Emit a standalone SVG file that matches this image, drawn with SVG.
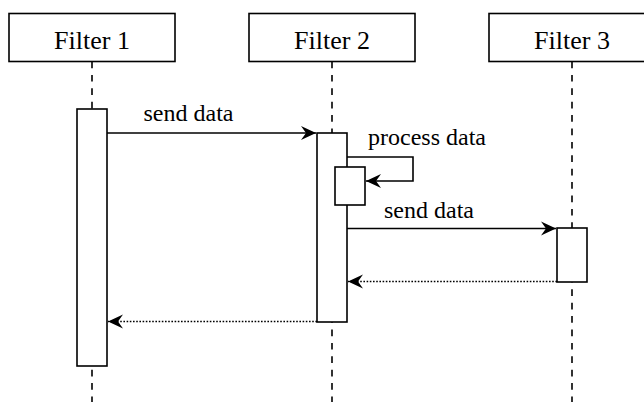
<svg xmlns="http://www.w3.org/2000/svg" width="644" height="402" viewBox="0 0 644 402">
<style>
.box{fill:#fff;stroke:#000;stroke-width:1.6}
.life{fill:none;stroke:#000;stroke-width:1.6;stroke-dasharray:6.7 6.7}
.act{fill:#fff;stroke:#000;stroke-width:1.6}
.msg{fill:none;stroke:#000;stroke-width:1.6}
.ret{fill:none;stroke:#000;stroke-width:1.6;stroke-dasharray:1.6 1.6}
.hdr{font-family:"Liberation Serif","Times New Roman",serif;font-size:26px;fill:#000;text-anchor:middle}
.lbl{font-family:"Liberation Serif","Times New Roman",serif;font-size:24px;fill:#000}
</style>
<defs>
<marker id="ah" viewBox="-16 -8 17 16" refX="0" refY="0" markerWidth="17" markerHeight="16" markerUnits="userSpaceOnUse" orient="auto">
<path d="M0,0 L-15,-7 L-10,0 L-15,7 Z" fill="#000"/>
</marker>
</defs>
<g id="filter1">
<line class="life" x1="92" y1="61.5" x2="92" y2="402"/>
<rect class="box" x="9" y="13.5" width="166" height="48"/>
<text class="hdr" x="92" y="49">Filter 1</text>
<rect class="act" x="77" y="109" width="30" height="257"/>
</g>
<g id="filter2">
<line class="life" x1="332" y1="61.5" x2="332" y2="402"/>
<rect class="box" x="249" y="13.5" width="166" height="48"/>
<text class="hdr" x="332" y="49">Filter 2</text>
<rect class="act" x="317" y="133" width="30" height="189"/>
<rect class="act" x="335" y="167" width="30" height="38"/>
</g>
<g id="filter3">
<line class="life" x1="572" y1="61.5" x2="572" y2="402"/>
<rect class="box" x="489" y="13.5" width="166" height="48"/>
<text class="hdr" x="572" y="49">Filter 3</text>
<rect class="act" x="557" y="228" width="30" height="54"/>
</g>
<g id="connectors">
<line class="msg" x1="107" y1="133" x2="316" y2="133" marker-end="url(#ah)"/>
<text class="lbl" x="143.5" y="121">send data</text>
<polyline class="msg" points="347,157 413,157 413,181 366,181" marker-end="url(#ah)"/>
<text class="lbl" x="368" y="145">process data</text>
<line class="msg" x1="347" y1="228.5" x2="556" y2="228.5" marker-end="url(#ah)"/>
<text class="lbl" x="384" y="218">send data</text>
<line class="ret" x1="557" y1="281.5" x2="348" y2="281.5" marker-end="url(#ah)"/>
<line class="ret" x1="317" y1="321.5" x2="108" y2="321.5" marker-end="url(#ah)"/>
</g>
</svg>
